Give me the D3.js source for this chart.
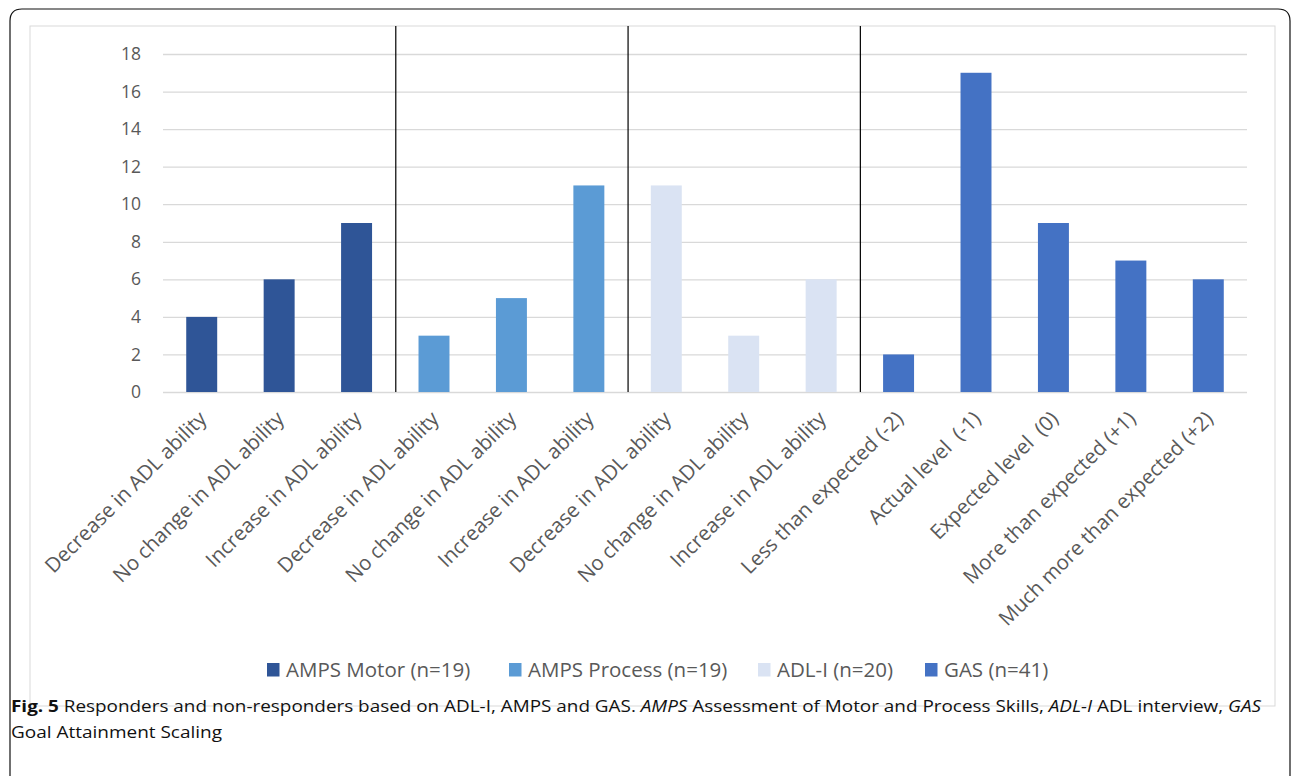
<!DOCTYPE html>
<html>
<head>
<meta charset="utf-8">
<script src="https://cdn.jsdelivr.net/npm/d3@7"></script>
<style>
  body { margin: 0; background: #fff; }
  svg { display: block; }
</style>
</head>
<body>
<div id="chart"></div>
<script>
// data
var categories = [
  "Decrease in ADL ability", "No change in ADL ability", "Increase in ADL ability",
  "Decrease in ADL ability", "No change in ADL ability", "Increase in ADL ability",
  "Decrease in ADL ability", "No change in ADL ability", "Increase in ADL ability",
  "Less than expected (-2)", "Actual level  (-1)", "Expected level  (0)",
  "More than expected (+1)", "Much more than expected (+2)"
];
var ampsMotor = [4, 6, 9];
var ampsProcess = [3, 5, 11];
var adlI = [11, 3, 6];
var gas = [2, 17, 9, 7, 6];
var seriesNames = ["AMPS Motor (n=19)", "AMPS Process (n=19)", "ADL-I (n=20)", "GAS (n=41)"];
var seriesColors = ["#2F5597", "#5B9BD5", "#DAE3F3", "#4472C4"];
var yTicks = [0, 2, 4, 6, 8, 10, 12, 14, 16, 18];

var W = 1292, H = 776;
var font = "'Open Sans', 'Noto Sans', sans-serif";

// flatten series into one row per category
var bars = [];
[ampsMotor, ampsProcess, adlI, gas].forEach(function(arr, s){
  arr.forEach(function(v){
    bars.push({i: bars.length, value: v, series: s});
  });
});

var svg = d3.select("#chart").append("svg")
  .attr("width", W).attr("height", H);

// outer rounded frame (open at bottom)
svg.append("path")
  .attr("d", "M10,790 L10,21 Q10,9 22,9 L1278,9 Q1290,9 1290,21 L1290,790")
  .attr("fill", "none").attr("stroke", "#111").attr("stroke-width", 1.2);

// chart area frame
svg.append("rect")
  .attr("x", 30).attr("y", 26).attr("width", 1245).attr("height", 680)
  .attr("fill", "#fff").attr("stroke", "#d9d9d9").attr("stroke-width", 1);

var x = d3.scaleBand()
  .domain(d3.range(categories.length))
  .range([163, 1247])
  .paddingInner(0.6).paddingOuter(0.3);

var xb = d3.scaleBand()
  .domain(d3.range(categories.length))
  .range([163, 1247]);

var y = d3.scaleLinear().domain([0, 18]).range([392, 54]);

// gridlines + y labels
var yAxis = d3.axisLeft(y).tickValues(yTicks).tickSize(-(1247 - 163)).tickPadding(22);
var gy = svg.append("g").attr("transform", "translate(163,0)").call(yAxis);
gy.select(".domain").remove();
gy.selectAll(".tick line").attr("stroke", "#d9d9d9").attr("stroke-width", 1.3);
gy.selectAll(".tick text")
  .attr("fill", "#595959").attr("font-family", font).attr("font-size", 17.5);

// group separators
[3, 6, 9].forEach(function(k){
  svg.append("line")
    .attr("x1", xb(k) + 0.5).attr("x2", xb(k) + 0.5)
    .attr("y1", 26).attr("y2", y(0))
    .attr("stroke", "#000").attr("stroke-width", 1.2);
});

// bars
svg.selectAll("rect.bar").data(bars).enter().append("rect")
  .attr("class", "bar")
  .attr("x", function(d){ return x(d.i); })
  .attr("width", x.bandwidth())
  .attr("y", function(d){ return y(d.value); })
  .attr("height", function(d){ return y(0) - y(d.value); })
  .attr("fill", function(d){ return seriesColors[d.series]; });

// category labels
svg.selectAll("text.cat").data(categories).enter().append("text")
  .attr("class", "cat")
  .attr("transform", function(d, i){
    var cx = xb(i) + xb.bandwidth() / 2;
    return "translate(" + (cx + 1) + "," + 415 + ") rotate(-45)";
  })
  .attr("text-anchor", "end")
  .attr("dy", "0.35em")
  .attr("fill", "#595959")
  .attr("font-family", font)
  .attr("font-size", 20.5)
  .style("white-space", "pre")
  .text(function(d){ return d; });

// legend
var legendX = [267, 509, 758, 925];
var lg = svg.selectAll("g.leg").data(seriesNames).enter().append("g")
  .attr("class", "leg")
  .attr("transform", function(d, i){ return "translate(" + legendX[i] + ",670)"; });
lg.append("rect").attr("x", 0).attr("y", -7).attr("width", 12.5).attr("height", 13.5)
  .attr("fill", function(d, i){ return seriesColors[i]; });
lg.append("text").attr("x", 19).attr("dy", "0.35em")
  .attr("fill", "#595959").attr("font-family", font).attr("font-size", 20.5)
  .text(function(d){ return d; });

// caption
var cap = svg.append("text")
  .attr("x", 11).attr("y", 712)
  .attr("font-family", font).attr("font-size", 16).attr("fill", "#111")
  .attr("textLength", 1250).attr("lengthAdjust", "spacingAndGlyphs");
cap.append("tspan").attr("font-weight", "bold").text("Fig. 5");
cap.append("tspan").text(" Responders and non-responders based on ADL-I, AMPS and GAS. ");
cap.append("tspan").attr("font-style", "italic").text("AMPS");
cap.append("tspan").text(" Assessment of Motor and Process Skills, ");
cap.append("tspan").attr("font-style", "italic").text("ADL-I");
cap.append("tspan").text(" ADL interview, ");
cap.append("tspan").attr("font-style", "italic").text("GAS");
svg.append("text")
  .attr("x", 11).attr("y", 738)
  .attr("font-family", font).attr("font-size", 16).attr("fill", "#111")
  .attr("textLength", 211).attr("lengthAdjust", "spacingAndGlyphs")
  .text("Goal Attainment Scaling");
</script>
</body>
</html>
